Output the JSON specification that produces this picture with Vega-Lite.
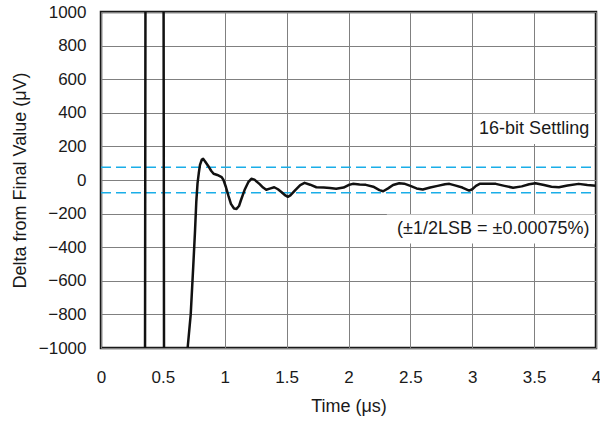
{
  "$schema": "https://vega.github.io/schema/vega-lite/v6.json",
  "width": 495,
  "height": 336,
  "autosize": {"type": "none"},
  "padding": {"left": 101, "top": 12, "right": 4, "bottom": 74},
  "background": "white",
  "config": {
    "font": "Liberation Sans",
    "view": {"stroke": "#1a1a1a", "strokeWidth": 2.5},
    "axis": {
      "grid": true,
      "gridColor": "#808080",
      "gridWidth": 1,
      "ticks": false,
      "domain": false,
      "labelFontSize": 17,
      "labelColor": "#1a1a1a",
      "labelOverlap": false,
      "labelBound": false,
      "labelFlush": false,
      "titleFontSize": 18,
      "titleFontWeight": "normal",
      "titleColor": "#1a1a1a"
    }
  },
  "datasets": {
    "wave": [
      {"t": 0, "v": -1500}, {"t": 0.355, "v": -1500}, {"t": 0.36, "v": 1500},
      {"t": 0.505, "v": 1500}, {"t": 0.51, "v": -1500}, {"t": 0.695, "v": -1500},
      {"t": 0.70, "v": -1000}, {"t": 0.725, "v": -800}, {"t": 0.745, "v": -520},
      {"t": 0.76, "v": -300}, {"t": 0.77, "v": -130}, {"t": 0.78, "v": -20},
      {"t": 0.79, "v": 40}, {"t": 0.80, "v": 90}, {"t": 0.815, "v": 122},
      {"t": 0.825, "v": 126}, {"t": 0.84, "v": 112}, {"t": 0.865, "v": 85},
      {"t": 0.89, "v": 55}, {"t": 0.91, "v": 37}, {"t": 0.94, "v": 30},
      {"t": 0.975, "v": 17}, {"t": 0.99, "v": 0}, {"t": 1.01, "v": -43},
      {"t": 1.03, "v": -95}, {"t": 1.05, "v": -142}, {"t": 1.075, "v": -170},
      {"t": 1.095, "v": -172}, {"t": 1.115, "v": -155}, {"t": 1.13, "v": -122},
      {"t": 1.16, "v": -60}, {"t": 1.19, "v": -13}, {"t": 1.215, "v": 7},
      {"t": 1.24, "v": 2}, {"t": 1.28, "v": -23}, {"t": 1.31, "v": -45},
      {"t": 1.335, "v": -58}, {"t": 1.37, "v": -50}, {"t": 1.40, "v": -43},
      {"t": 1.43, "v": -55}, {"t": 1.46, "v": -73}, {"t": 1.49, "v": -92},
      {"t": 1.51, "v": -100}, {"t": 1.53, "v": -92}, {"t": 1.57, "v": -60},
      {"t": 1.61, "v": -30}, {"t": 1.645, "v": -17}, {"t": 1.69, "v": -28},
      {"t": 1.74, "v": -43}, {"t": 1.80, "v": -45}, {"t": 1.85, "v": -48},
      {"t": 1.90, "v": -52}, {"t": 1.96, "v": -45}, {"t": 2.00, "v": -30},
      {"t": 2.035, "v": -23}, {"t": 2.09, "v": -27}, {"t": 2.14, "v": -29},
      {"t": 2.20, "v": -40}, {"t": 2.25, "v": -60}, {"t": 2.28, "v": -67},
      {"t": 2.32, "v": -50}, {"t": 2.36, "v": -30}, {"t": 2.41, "v": -19},
      {"t": 2.45, "v": -22}, {"t": 2.50, "v": -35}, {"t": 2.55, "v": -50},
      {"t": 2.60, "v": -57}, {"t": 2.66, "v": -45}, {"t": 2.72, "v": -35},
      {"t": 2.78, "v": -25}, {"t": 2.815, "v": -23}, {"t": 2.86, "v": -32},
      {"t": 2.92, "v": -45}, {"t": 2.975, "v": -63}, {"t": 3.00, "v": -55},
      {"t": 3.03, "v": -35}, {"t": 3.06, "v": -23}, {"t": 3.12, "v": -22},
      {"t": 3.19, "v": -23}, {"t": 3.26, "v": -35}, {"t": 3.33, "v": -46},
      {"t": 3.40, "v": -38}, {"t": 3.46, "v": -25}, {"t": 3.51, "v": -19},
      {"t": 3.58, "v": -30}, {"t": 3.64, "v": -40}, {"t": 3.70, "v": -43},
      {"t": 3.77, "v": -33}, {"t": 3.86, "v": -23}, {"t": 3.93, "v": -30},
      {"t": 4.00, "v": -35}
    ],
    "limits": [
      {"t": 0, "v": 76, "side": "upper"}, {"t": 4, "v": 76, "side": "upper"},
      {"t": 0, "v": -76, "side": "lower"}, {"t": 4, "v": -76, "side": "lower"}
    ],
    "boxes": [
      {"t": 3.01, "t2": 3.99, "v": 215, "v2": 395},
      {"t": 2.31, "t2": 3.99, "v": -205, "v2": -378}
    ],
    "notes": [
      {"t": 3.5, "v": 304, "label": "16-bit Settling"},
      {"t": 3.17, "v": -292, "label": "(±1/2LSB = ±0.00075%)"}
    ]
  },
  "encoding": {
    "x": {"field": "t", "type": "quantitative",
          "scale": {"domain": [0, 4], "nice": false, "zero": false},
          "axis": {"values": [0, 0.5, 1, 1.5, 2, 2.5, 3, 3.5, 4], "format": "~g", "labelPadding": 21, "title": "Time (μs)", "titlePadding": 12}},
    "y": {"field": "v", "type": "quantitative",
          "scale": {"domain": [-1000, 1000], "nice": false, "zero": false},
          "axis": {"values": [-1000, -800, -600, -400, -200, 0, 200, 400, 600, 800, 1000], "format": "d", "labelPadding": 15, "title": "Delta from Final Value (μV)", "titlePadding": 9}}
  },
  "layer": [
    {
      "data": {"name": "boxes"},
      "mark": {"type": "rect", "fill": "white", "strokeWidth": 0},
      "encoding": {
        "x2": {"field": "t2"},
        "y2": {"field": "v2"}
      }
    },
    {
      "data": {"name": "limits"},
      "mark": {"type": "line", "color": "#1aaee8", "strokeWidth": 1.5, "strokeDash": [10, 5]},
      "encoding": {
        "detail": {"field": "side", "type": "nominal"}
      }
    },
    {
      "data": {"name": "wave"},
      "mark": {"type": "line", "color": "#111111", "strokeWidth": 2.5, "clip": true, "strokeJoin": "round"},
      "encoding": {}
    },
    {
      "data": {"name": "notes"},
      "mark": {"type": "text", "fontSize": 18, "color": "#1a1a1a", "align": "center", "baseline": "middle"},
      "encoding": {
        "text": {"field": "label"}
      }
    }
  ]
}
